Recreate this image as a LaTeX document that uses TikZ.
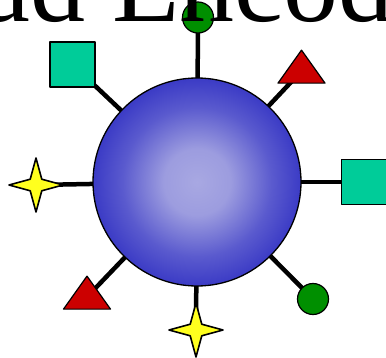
\documentclass[tikz,border=0pt]{standalone}
\usepackage{fontspec}
\setmainfont{Liberation Serif}
\usetikzlibrary{shapes.geometric}
\definecolor{orbin}{HTML}{A8A8E2}
\definecolor{orbmid}{HTML}{5A5ACE}
\definecolor{orbout}{HTML}{3232C3}
\definecolor{mint}{HTML}{00CC99}
\definecolor{leaf}{HTML}{008F00}
\definecolor{brick}{HTML}{CC0000}
\definecolor{lemon}{HTML}{FFFF1E}
\pgfdeclareradialshading{orbshade}{\pgfpoint{0bp}{0bp}}{%
  color(0bp)=(orbin); color(8bp)=(orbin!85!orbmid);
  color(18bp)=(orbmid); color(27bp)=(orbout); color(50bp)=(orbout)}
\pgfdeclarelayer{bg}
\pgfsetlayers{bg,main}

\begin{document}
\begin{tikzpicture}[
  x=1pt, y=1pt,
  line join=round,
  orb/.style={
    circle,
    draw=black,
    line width=1.3pt,
    shading=orbshade,
    minimum size=208pt,
    inner sep=0pt,
  },
  sat/.style={
    draw=black,
    line width=1.2pt,
    inner sep=0pt,
  },
  sqsat/.style={
    sat,
    rectangle,
    fill=mint,
    minimum size=45pt,
  },
  dotsat/.style={
    sat,
    circle,
    fill=leaf,
    minimum size=31pt,
  },
  trisat/.style={
    sat,
    isosceles triangle,
    isosceles triangle stretches,
    shape border rotate=90,
    fill=brick,
    minimum width=47pt,
    minimum height=33pt,
  },
  starsat/.style={
    sat,
    star,
    star points=4,
    star point ratio=3.3,
    fill=lemon,
    line width=1.6pt,
    minimum size=54pt,
  },
  spoke/.style={
    black,
    line width=4.5pt,
  },
]
\useasboundingbox (0,0) rectangle (386,357);

% --- ball ---
\node[orb] (ball) at (197,175) {};

% --- satellites ---
\node[dotsat]  (north)     at (198,339.5) {};
\node[trisat]  (northeast) at (301.5,286) {};
\node[sqsat]   (east)      at (364,175) {};
\node[dotsat]  (southeast) at (313,58) {};
\node[starsat] (south)     at (196,27) {};
\node[trisat]  (southwest) at (87,60) {};
\node[starsat] (west)      at (36,172) {};
\node[sqsat]   (northwest) at (72.5,292.5) {};

% --- spokes ---
\begin{pgfonlayer}{bg}
  \draw[spoke] (ball.center) -- (north.center);
  \draw[spoke] (ball.center) -- (northeast.center);
  \draw[spoke] (ball.center) -- (east.center);
  \draw[spoke] (ball.center) -- (southeast.center);
  \draw[spoke] (ball.center) -- (south.center);
  \draw[spoke] (ball.center) -- (southwest.center);
  \draw[spoke] (ball.center) -- (west.center);
  \draw[spoke] (ball.center) -- (northwest.center);
\end{pgfonlayer}

% --- heading ---
\node[anchor=base west, inner sep=0pt, font=\fontsize{110}{110}\selectfont]
  (title) at (-19,335) {ad Encod};

\end{tikzpicture}
\end{document}
